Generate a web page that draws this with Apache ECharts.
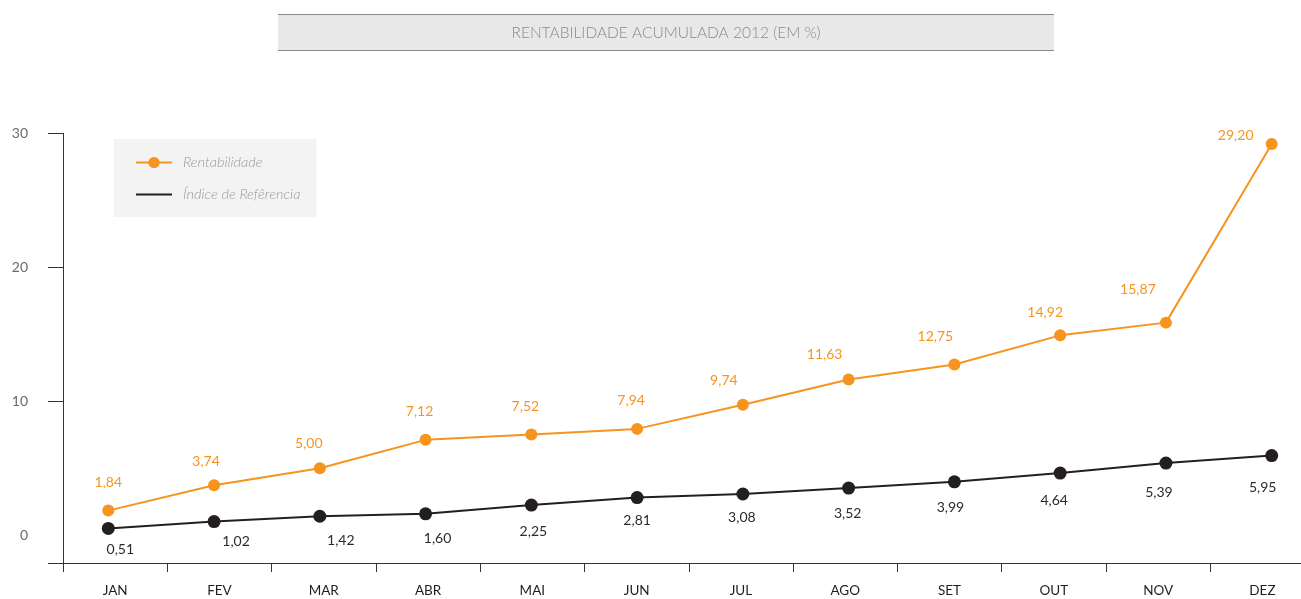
<!DOCTYPE html>
<html>
<head>
<meta charset="utf-8">
<script src="https://cdn.jsdelivr.net/npm/echarts@6/dist/echarts.min.js"></script>
<style>
html,body{margin:0;padding:0;background:#fff;}
#chart{width:1301px;height:599px;}
</style>
</head>
<body>
<div id="chart"></div>
<script>
// ---- data ----
const categories = ['JAN','FEV','MAR','ABR','MAI','JUN','JUL','AGO','SET','OUT','NOV','DEZ'];
const rentabilidade = [1.84, 3.74, 5.00, 7.12, 7.52, 7.94, 9.74, 11.63, 12.75, 14.92, 15.87, 29.20];
const indiceReferencia = [0.51, 1.02, 1.42, 1.60, 2.25, 2.81, 3.08, 3.52, 3.99, 4.64, 5.39, 5.95];
const yTickLabels = [0, 10, 20, 30];
const titleText = 'RENTABILIDADE ACUMULADA 2012 (EM %)';
const seriesNames = ['Rentabilidade', 'Índice de Refêrencia'];

// ---- label placement (style, not data) ----
const orangeLabelOffsets = [[0,-28],[-8,-24],[-11,-25],[-6,-28],[-6,-28],[-6,-28],[-19,-24],[-24,-25],[-19,-28],[-15,-23],[-28,-33],[-36,-9]];
const blackLabelOffsets = [[12,21],[22,20],[21,24],[12,25],[2,26],[0,23],[-1,23],[-1,25],[-4,26],[-6,27],[-7,29],[-9,32]];

const ORANGE = '#f7941d';
const BLACK = '#231f20';
const FONT = 'Lato, "Open Sans", sans-serif';
const fmt = v => Number(v).toFixed(2).replace('.', ',');

const yMin = -2.07, yMax = 30;
const gridTop = 133.3, gridHeight = 429.7;

function buildData(values, offsets) {
  return values.map((v, i) => ({
    value: v,
    label: { offset: offsets[i] }
  }));
}

const chart = echarts.init(document.getElementById('chart'), null, {renderer: 'canvas'});
chart.setOption({
  animation: false,
  textStyle: { fontFamily: FONT },
  graphic: [
    { type: 'rect', shape: { x: 278, y: 14, width: 776, height: 37 }, style: { fill: '#e8e8e8' } },
    { type: 'line', shape: { x1: 278, y1: 14.5, x2: 1054, y2: 14.5 }, style: { stroke: '#8a8a8a', lineWidth: 1 } },
    { type: 'line', shape: { x1: 278, y1: 50.5, x2: 1054, y2: 50.5 }, style: { stroke: '#8a8a8a', lineWidth: 1 } },
    { type: 'text', x: 666, y: 33, style: { text: titleText, fill: '#8a8a8a', font: '300 15.5px ' + FONT, textAlign: 'center', textVerticalAlign: 'middle' } }
  ],
  legend: {
    orient: 'vertical',
    left: 114, top: 139,
    padding: [16, 16, 15, 21],
    itemGap: 17,
    itemWidth: 36,
    itemHeight: 14,
    backgroundColor: '#f3f3f3',
    textStyle: { color: '#9a9a9a', fontStyle: 'italic', fontWeight: 300, fontSize: 14.5, fontFamily: FONT, padding: [0, 0, 0, 6] },
    data: [
      { name: seriesNames[0] },
      { name: seriesNames[1], icon: 'path://M0,0H36V2H0Z', itemStyle: { color: BLACK } }
    ]
  },
  grid: [
    { left: 63, top: gridTop, width: 1251.6, height: gridHeight, outerBoundsMode: 'none' },
    { left: 108.3, top: gridTop, width: 1163.4, height: gridHeight, outerBoundsMode: 'none' }
  ],
  xAxis: [
    {
      gridIndex: 0, type: 'category', data: categories, boundaryGap: true,
      axisLine: { onZero: false, lineStyle: { color: '#333', width: 1 } },
      axisTick: { show: true, length: 9, interval: 0, lineStyle: { color: '#333' } },
      axisLabel: { margin: 21, color: '#1e1e1e', fontSize: 13.5, fontFamily: FONT, interval: 0 },
      splitLine: { show: false }
    },
    { gridIndex: 1, type: 'category', data: categories, boundaryGap: false, show: false }
  ],
  yAxis: [
    {
      gridIndex: 0, type: 'value', min: yMin, max: yMax,
      axisLine: { show: true, lineStyle: { color: '#333', width: 1 } },
      axisTick: { show: true, length: 15, customValues: [yMin, 10, 20, 30], lineStyle: { color: '#333' } },
      axisLabel: { customValues: yTickLabels, margin: 35, color: '#6a6a6a', fontSize: 14, fontFamily: FONT },
      splitLine: { show: false }
    },
    { gridIndex: 1, type: 'value', min: yMin, max: yMax, show: false, splitLine: { show: false } }
  ],
  series: [
    {
      name: seriesNames[0], type: 'line', xAxisIndex: 1, yAxisIndex: 1,
      data: buildData(rentabilidade, orangeLabelOffsets),
      symbol: 'circle', symbolSize: 12,
      lineStyle: { color: ORANGE, width: 2 },
      itemStyle: { color: ORANGE },
      label: { show: true, position: 'inside', color: ORANGE, fontSize: 14, fontFamily: FONT, formatter: p => fmt(p.value) },
      z: 3
    },
    {
      name: seriesNames[1], type: 'line', xAxisIndex: 1, yAxisIndex: 1,
      data: buildData(indiceReferencia, blackLabelOffsets),
      symbol: 'circle', symbolSize: 13,
      lineStyle: { color: BLACK, width: 2 },
      itemStyle: { color: BLACK },
      label: { show: true, position: 'inside', color: '#2b2b2b', fontSize: 14, fontFamily: FONT, formatter: p => fmt(p.value) },
      z: 2
    }
  ]
});
</script>
</body>
</html>
